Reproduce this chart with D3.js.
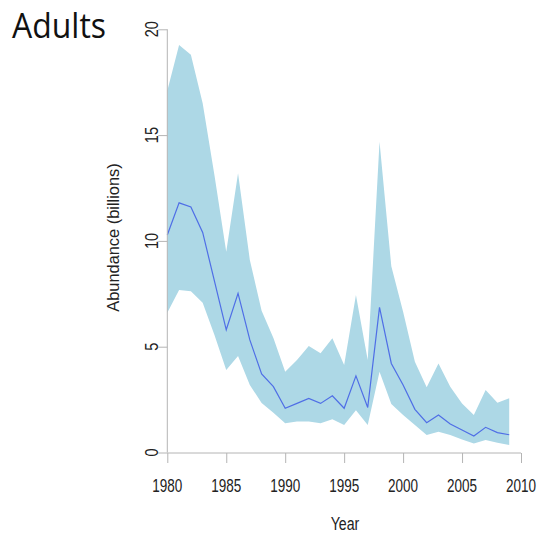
<!DOCTYPE html>
<html>
<head>
<meta charset="utf-8">
<script src="https://cdn.jsdelivr.net/npm/d3@7"></script>
<style>
  html, body { margin: 0; padding: 0; background: #fff; }
  svg { display: block; }
</style>
</head>
<body>
<svg id="chart" width="539" height="533"></svg>
<script>
const years = d3.range(1980, 2010);
const meanValues = [10.28, 11.8, 11.6, 10.4, 8.1, 5.8, 7.52, 5.32, 3.71, 3.11,
                    2.09, 2.32, 2.56, 2.32, 2.68, 2.09, 3.62, 2.13, 6.86, 4.21,
                    3.19, 2.04, 1.41, 1.77, 1.35, 1.06, 0.78, 1.19, 0.94, 0.84];
const lowerValues = [6.6, 7.68, 7.62, 7.08, 5.55, 3.9, 4.56, 3.19, 2.34, 1.88,
                     1.38, 1.46, 1.46, 1.38, 1.57, 1.3, 2.0, 1.3, 3.82, 2.29,
                     1.77, 1.3, 0.83, 0.98, 0.83, 0.62, 0.43, 0.59, 0.46, 0.35];
const upperValues = [17.1, 19.26, 18.8, 16.5, 13.1, 9.49, 13.2, 9.1, 6.7, 5.41,
                     3.82, 4.37, 5.03, 4.69, 5.4, 4.13, 7.44, 4.37, 14.69, 8.8,
                     6.65, 4.29, 3.08, 4.21, 3.11, 2.32, 1.77, 2.95, 2.35, 2.56];
const xTicks = [1980, 1985, 1990, 1995, 2000, 2005, 2010];
const yTicks = [0, 5, 10, 15, 20];
const title = "Adults";
const xTitle = "Year";
const yTitle = "Abundance (billions)";

const svg = d3.select("#chart");
const x = d3.scaleLinear().domain([1980, 2010]).range([167.3, 521]);
const y = d3.scaleLinear().domain([0, 20]).range([452.5, 29.3]);

const rows = years.map((yr, i) => ({ yr, m: meanValues[i], lo: lowerValues[i], hi: upperValues[i] }));

// band
svg.append("path")
  .datum(rows)
  .attr("fill", "#add8e6")
  .attr("d", d3.area().x(d => x(d.yr)).y0(d => y(d.lo)).y1(d => y(d.hi)));

// mean line
svg.append("path")
  .datum(rows)
  .attr("fill", "none")
  .attr("stroke", "#4f6ee6")
  .attr("stroke-width", 1.2)
  .attr("d", d3.line().x(d => x(d.yr)).y(d => y(d.m)));

const axisColor = "#b4b4b4";
const labelColor = "#222";

// x axis
const xAxis = svg.append("g").attr("transform", "translate(0,453)")
  .call(d3.axisBottom(x).tickValues(xTicks).tickSize(10).tickFormat(""));
xAxis.select(".domain").attr("stroke", axisColor).attr("d", `M${x(1980)},0H${x(2010)}`);
xAxis.selectAll(".tick line").attr("stroke", axisColor);

svg.append("g").selectAll("g.xl").data(xTicks).join("g")
  .attr("transform", d => `translate(${x(d)},491.7) scale(1,1.38)`)
  .append("text")
  .attr("text-anchor", "middle")
  .attr("font-family", "Liberation Sans, Arial, sans-serif")
  .attr("font-size", 13.5)
  .attr("fill", labelColor)
  .text(d => d);

// y axis
const yAxis = svg.append("g").attr("transform", "translate(167.3,0)")
  .call(d3.axisLeft(y).tickValues(yTicks).tickSize(9).tickFormat(""));
yAxis.select(".domain").attr("stroke", axisColor).attr("d", `M0,${y(0)}V${y(20)}`);
yAxis.selectAll(".tick line").attr("stroke", axisColor);

svg.append("g").selectAll("g.yl").data(yTicks).join("g")
  .attr("transform", d => `translate(158,${y(d)}) rotate(-90) scale(1,1.25)`)
  .append("text")
  .attr("text-anchor", "middle")
  .attr("font-family", "Liberation Sans, Arial, sans-serif")
  .attr("font-size", 14.5)
  .attr("fill", labelColor)
  .text(d => d);

// axis titles
svg.append("g")
  .attr("transform", "translate(345,529.5) scale(1,1.35)")
  .append("text")
  .attr("text-anchor", "middle")
  .attr("font-family", "Liberation Sans, Arial, sans-serif")
  .attr("font-size", 14.2)
  .attr("fill", labelColor)
  .text(xTitle);

svg.append("text")
  .attr("transform", "translate(118.5,237.5) rotate(-90)")
  .attr("text-anchor", "middle")
  .attr("font-family", "Liberation Sans, Arial, sans-serif")
  .attr("font-size", 16.4)
  .attr("fill", labelColor)
  .text(yTitle);

// title
svg.append("text")
  .attr("x", 12)
  .attr("y", 37.5)
  .attr("font-family", "Open Sans, sans-serif")
  .attr("font-size", 34)
  .attr("fill", "#111")
  .attr("textLength", 94)
  .attr("lengthAdjust", "spacingAndGlyphs")
  .text(title);
</script>
</body>
</html>
